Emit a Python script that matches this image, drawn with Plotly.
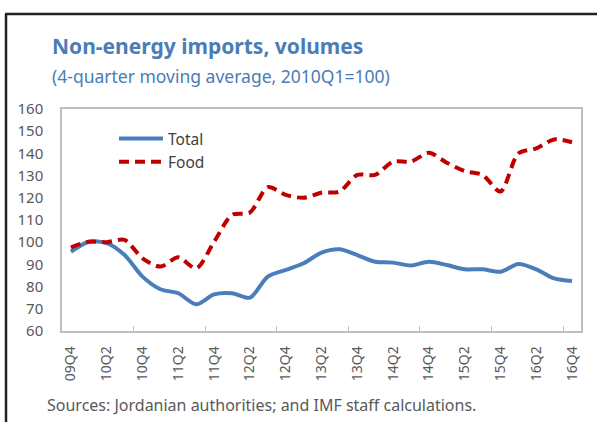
import plotly.graph_objects as go

quarters = ["09Q4",
            "10Q1", "10Q2", "10Q3", "10Q4",
            "11Q1", "11Q2", "11Q3", "11Q4",
            "12Q1", "12Q2", "12Q3", "12Q4",
            "13Q1", "13Q2", "13Q3", "13Q4",
            "14Q1", "14Q2", "14Q3", "14Q4",
            "15Q1", "15Q2", "15Q3", "15Q4",
            "16Q1", "16Q2", "16Q3", "16Q4"]

total = [95.7, 100.2, 99.6, 94.2, 84.5, 78.8, 77.0, 72.0, 76.5, 77.0,
         75.0, 84.5, 87.5, 90.5, 95.3, 96.8, 94.2, 91.2, 90.8, 89.5,
         91.2, 89.7, 87.8, 87.8, 86.7, 90.2, 87.8, 83.7, 82.5]

food = [97.7, 100.2, 100.0, 101.0, 92.7, 89.0, 93.2, 88.2, 100.2, 112.3,
        113.4, 124.8, 121.3, 120.0, 122.3, 122.8, 130.3, 130.3, 136.3, 136.3,
        140.3, 135.8, 132.0, 130.3, 122.8, 140.0, 142.3, 146.3, 145.0]

y_ticks = [60, 70, 80, 90, 100, 110, 120, 130, 140, 150, 160]

x = list(range(len(quarters)))

FONT = "Noto Sans"
GRAY = "#595959"
BLUE_T = "#4A7DB5"

fig = go.Figure()
fig.add_trace(go.Scatter(x=x, y=total, name="Total", mode="lines",
                         line=dict(color="#4A7EBB", width=4, shape="spline", smoothing=0.8)))
fig.add_trace(go.Scatter(x=x, y=food, name="Food", mode="lines",
                         line=dict(color="#C00000", width=4, dash="10px,6px",
                                   shape="spline", smoothing=0.8)))

L, R, T, B = 62, 16, 109, 91
W, H = 597, 422
pw, ph = W - L - R, H - T - B

def px(xp):
    return (xp - L) / pw

def py(yp):
    return (H - B - yp) / ph

fig.update_layout(
    width=W, height=H,
    margin=dict(l=L, r=R, t=T, b=B),
    paper_bgcolor="white", plot_bgcolor="white",
    showlegend=True,
    legend=dict(x=px(114), y=py(122), xanchor="left", yanchor="top",
                bgcolor="rgba(0,0,0,0)", font=dict(family=FONT, size=15.5, color="#404040"),
                tracegroupgap=0, itemwidth=44),
    xaxis=dict(range=[-0.5, len(quarters) - 0.5],
               tickmode="array", tickvals=x[::2], ticktext=quarters[::2],
               tickangle=-90, ticks="outside", ticklen=8, tickcolor="rgba(0,0,0,0)",
               tickfont=dict(family=FONT, size=14, color=GRAY),
               showgrid=False, zeroline=False,
               showline=True, linecolor="#BFBFBF", linewidth=1.5, mirror=True,
               minor=dict(tickmode="array", tickvals=[i - 0.5 for i in x if i % 4 == 0 and i > 0],
                          ticks="inside", ticklen=5, tickcolor="#BFBFBF", tickwidth=1,
                          showgrid=False)),
    yaxis=dict(range=[60, 160], tickmode="array", tickvals=y_ticks,
               ticks="outside", ticklen=14, tickcolor="rgba(0,0,0,0)",
               tickfont=dict(family=FONT, size=15, color=GRAY),
               showgrid=False, zeroline=False,
               showline=True, linecolor="#BFBFBF", linewidth=1.5, mirror=True),
)

fig.add_annotation(text="<b>Non-energy imports, volumes</b>", xref="paper", yref="paper",
                   x=px(50), y=py(46), xanchor="left", yanchor="middle", showarrow=False,
                   font=dict(family=FONT, size=21, color=BLUE_T))
fig.add_annotation(text="(4-quarter moving average, 2010Q1=100)", xref="paper", yref="paper",
                   x=px(50), y=py(76), xanchor="left", yanchor="middle", showarrow=False,
                   font=dict(family=FONT, size=17.5, color=BLUE_T))
fig.add_annotation(text="Sources: Jordanian authorities; and IMF staff calculations.",
                   xref="paper", yref="paper",
                   x=px(45), y=py(405), xanchor="left", yanchor="middle", showarrow=False,
                   font=dict(family=FONT, size=16, color=GRAY))

# outer frame (left and top edges)
fig.add_shape(type="line", xref="paper", yref="paper", x0=px(6), x1=px(6), y0=py(14), y1=py(430),
              line=dict(color="#222222", width=2.5))
fig.add_shape(type="line", xref="paper", yref="paper", x0=px(5), x1=px(605), y0=py(14), y1=py(14),
              line=dict(color="#222222", width=2.5))

fig.write_html("out.html", config={"displayModeBar": False},
               post_script="document.body.style.margin='0';document.body.style.overflow='hidden';")
